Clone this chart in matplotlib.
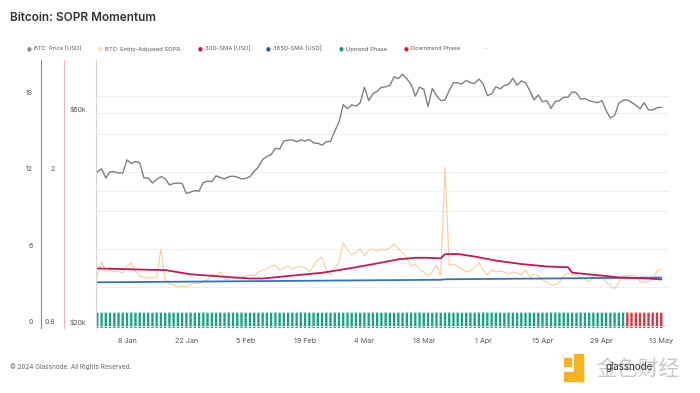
import matplotlib
matplotlib.use('Agg')
import matplotlib.pyplot as plt
import matplotlib.ticker as mticker
import numpy as np
import pandas as pd

plt.rcParams['font.family'] = ['Inter', 'DejaVu Sans']

# --- data ---
start = '2024-01-01'
downtrend_start = '2024-05-05'

# BTC price (k USD), daily Jan 1 - May 13 2024
btc_price = [
    44.2, 44.9, 42.8, 44.2, 44.2, 43.9, 43.9, 47.0, 46.1, 46.6, 46.3, 42.8, 42.8, 41.7, 42.5, 43.1,
    42.7, 41.3, 41.6, 41.7, 41.6, 39.5, 39.8, 40.1, 40.0, 41.8, 42.1, 42.0, 43.3, 42.9, 42.6,
    43.1, 43.2, 43.0, 42.6, 42.7, 43.1, 44.3, 45.3, 47.1, 47.8, 48.3, 49.9, 49.7, 51.8, 52.0,
    52.1, 51.6, 52.1, 51.8, 52.2, 51.3, 51.2, 50.7, 51.6, 51.7, 54.5, 57.1, 62.5, 61.2,
    62.4, 62.0, 63.1, 68.3, 63.8, 66.1, 66.9, 68.3, 68.5, 69.0, 72.1, 71.5, 73.1, 71.4, 69.4,
    65.3, 68.4, 67.6, 61.9, 67.9, 65.5, 63.8, 64.0, 67.2, 70.0, 69.9, 69.5, 70.8, 70.0, 69.7, 71.3,
    69.6, 65.5, 66.0, 68.5, 67.8, 68.9, 69.4, 71.6, 69.1, 70.6, 70.0, 67.1, 64.0, 65.7, 63.4,
    63.8, 61.3, 63.5, 63.8, 64.9, 64.9, 66.8, 66.4, 64.3, 64.5, 63.8, 63.4, 63.1, 63.8, 60.6,
    58.3, 59.1, 62.9, 63.9, 64.0, 63.2, 62.3, 61.2, 63.1, 60.8, 60.8, 61.5, 61.6,
]

# Entity-adjusted SOPR, daily
sopr = [
    1.076, 1.170, 1.102, 1.115, 1.102, 1.108, 1.095, 1.142, 1.163, 1.108, 1.076, 1.069, 1.063,
    1.063, 1.069, 1.265, 1.051, 1.026, 1.020, 1.007, 1.014, 1.007, 1.020, 1.032, 1.026, 1.044,
    1.051, 1.089, 1.076, 1.102, 1.057, 1.051, 1.063, 1.057, 1.069, 1.076, 1.082, 1.076, 1.102,
    1.115, 1.122, 1.142, 1.149, 1.115, 1.129, 1.142, 1.122, 1.135, 1.142, 1.129, 1.102, 1.142,
    1.184, 1.205, 1.115, 1.082, 1.129, 1.170, 1.311, 1.257, 1.220, 1.242, 1.265, 1.213, 1.257,
    1.265, 1.250, 1.265, 1.257, 1.272, 1.303, 1.265, 1.235, 1.198, 1.142, 1.156, 1.115, 1.102,
    1.076, 1.102, 1.149, 1.076, 2.067, 1.149, 1.156, 1.142, 1.122, 1.102, 1.108, 1.135, 1.163,
    1.115, 1.082, 1.115, 1.102, 1.108, 1.102, 1.089, 1.102, 1.095, 1.082, 1.115, 1.069, 1.089,
    1.076, 1.051, 1.038, 1.020, 1.020, 1.038, 1.076, 1.095, 1.082, 1.082, 1.069, 1.057, 1.038,
    1.069, 1.069, 1.069, 1.038, 1.014, 0.996, 1.038, 1.076, 1.076, 1.082, 1.076, 1.038, 1.038,
    1.038, 1.057, 1.108, 1.122,
]

# 30D / 365D SMA (day index from start, value)
sma30_days = [0, 12, 16, 22, 30, 36, 39, 45, 53, 57, 61, 67, 71, 75, 78, 81, 82, 85, 89, 94,
              100, 106, 111, 112, 115, 120, 123, 130, 133]
sma30 = [1.126, 1.117, 1.115, 1.087, 1.071, 1.060, 1.060, 1.076, 1.097, 1.115, 1.134, 1.166,
         1.189, 1.200, 1.200, 1.196, 1.226, 1.228, 1.209, 1.180, 1.156, 1.139, 1.134, 1.098,
         1.089, 1.076, 1.067, 1.060, 1.054]
sma365_days = [0, 40, 81, 82, 110, 133]
sma365 = [1.036, 1.044, 1.052, 1.055, 1.061, 1.066]

date_ticks = ['2024-01-08', '2024-01-22', '2024-02-05', '2024-02-19', '2024-03-04',
              '2024-03-18', '2024-04-01', '2024-04-15', '2024-04-29', '2024-05-13']
left_ticks = [0, 6, 12, 18]
sopr_ticks = [0.8, 2]
sopr_tick_labels = ['0.8', '2']
price_ticks = [20000, 60000]
price_tick_labels = ['$20k', '$60k']

dates = pd.date_range(start, periods=len(btc_price), freq='D')
price_usd = np.array(btc_price) * 1000

W, H = 700, 393
fig = plt.figure(figsize=(7, 3.93), dpi=100)

def fx(px):
    return px / W

def fy(py):
    return 1 - py / H

ax_left = fig.add_axes([fx(96), fy(328), fx(668) - fx(96), fy(60) - fy(328)])
ax_sopr = ax_left.twinx()
ax_price = ax_left.twinx()

x0 = pd.Timestamp(start)
ax_left.set_xlim(x0 - pd.Timedelta(hours=7.5), x0 + pd.Timedelta(days=134.6))

# phase bars
ax_left.set_ylim(-0.196, 20.78)
bar_colors = ['#d9343f' if d >= pd.Timestamp(downtrend_start) else '#19a184' for d in dates]
ax_left.bar(dates, 1.2, bottom=-0.196, width=0.55, color=bar_colors, align='center',
            zorder=2, snap=False, lw=0)

# grid (left axis)
ax_left.set_yticks(left_ticks)
ax_left.set_yticks([3, 9, 15], minor=True)
ax_left.grid(axis='y', which='both', color='#ececec', lw=0.6)
ax_left.set_axisbelow(True)

# sopr lines
ax_sopr.set_yscale('log')
ax_sopr.set_ylim(0.7881, 3.923)
ax_sopr.plot(dates, sopr, color='#f7cc9c', lw=0.8, zorder=2)
ax_sopr.plot(dates[sma365_days], sma365, color='#3274b5', lw=1.3, zorder=3)
ax_sopr.plot(dates[sma30_days], sma30, color='#c21a52', lw=1.3, zorder=4)

# price
ax_price.set_yscale('log')
ax_price.set_ylim(19744, 78660)
ax_price.plot(dates, price_usd, color='#7b817f', lw=1.0)

# axes styling
for a in (ax_left, ax_sopr, ax_price):
    for s in a.spines.values():
        s.set_visible(False)
    a.yaxis.set_ticks_position('left')
    a.yaxis.set_label_position('left')
    a.tick_params(axis='y', which='both', length=0, labelsize=5, labelcolor='#555555')

ax_left.spines['left'].set_visible(True)
ax_left.spines['left'].set_position(('outward', 55 * 0.72))
ax_left.spines['left'].set_color('#4fa9a0')
ax_left.spines['left'].set_linewidth(0.8)
ax_left.set_yticklabels([str(t) for t in left_ticks])
ax_left.tick_params(axis='y', pad=5.8)

ax_sopr.spines['left'].set_visible(True)
ax_sopr.spines['left'].set_position(('outward', 32 * 0.72))
ax_sopr.spines['left'].set_color('#eab7bb')
ax_sopr.spines['left'].set_linewidth(0.8)
ax_sopr.yaxis.set_major_locator(mticker.FixedLocator(sopr_ticks))
ax_sopr.yaxis.set_major_formatter(mticker.FixedFormatter(sopr_tick_labels))
ax_sopr.yaxis.set_minor_locator(mticker.NullLocator())
ax_sopr.tick_params(axis='y', pad=6.5)

ax_price.spines['left'].set_visible(True)
ax_price.spines['left'].set_color('#d6d6d6')
ax_price.spines['left'].set_linewidth(0.8)
ax_price.yaxis.set_major_locator(mticker.FixedLocator(price_ticks))
ax_price.yaxis.set_major_formatter(mticker.FixedFormatter(price_tick_labels))
ax_price.yaxis.set_minor_locator(mticker.FixedLocator([40000]))
ax_price.yaxis.set_minor_formatter(mticker.NullFormatter())
ax_price.grid(axis='y', which='both', color='#ececec', lw=0.6)
ax_price.tick_params(axis='y', pad=7.2)

for a in (ax_left, ax_sopr, ax_price):
    for lbl in a.get_yticklabels():
        lbl.set_va('bottom')

# x ticks
tick_dates = pd.to_datetime(date_ticks)
ax_left.set_xticks(tick_dates)
ax_left.set_xticklabels([f'{d.day} {d.strftime("%b")}' for d in tick_dates])
ax_left.tick_params(axis='x', length=0, labelsize=5.2, labelcolor='#555555', pad=7)
for a in (ax_sopr, ax_price):
    a.tick_params(axis='x', which='both', bottom=False, labelbottom=False)

# title / legend / footer
fig.text(fx(10), fy(18), 'Bitcoin: SOPR Momentum', fontsize=8.5, color='#333333',
         weight='semibold', va='center', ha='left')

legend_items = [
    (29, '#8a8a8a', 'BTC: Price [USD]'),
    (100, '#fbe2c2', 'BTC: Entity-Adjusted SOPR'),
    (200, '#c8144c', '30D-SMA [USD]'),
    (268, '#1f5fa8', '365D-SMA [USD]'),
    (341, '#17977b', 'Uptrend Phase'),
    (406, '#d1202f', 'Downtrend Phase'),
]
for px, col, txt in legend_items:
    fig.text(fx(px), fy(49), '\u25CF', fontsize=4, color=col, va='center', ha='center',
             family='DejaVu Sans')
    fig.text(fx(px + 5), fy(49), txt, fontsize=4.2, color='#555555', va='center', ha='left')
fig.text(fx(484), fy(49), '\u00B7\u00B7\u00B7', fontsize=4, color='#777777', va='center', ha='left')

fig.text(fx(10), fy(367), '\u00A9 2024 Glassnode. All Rights Reserved.', fontsize=4.6,
         color='#666666', va='center', ha='left')

# watermark
fig.patches.append(plt.Rectangle((fx(564), fy(366)), fx(7), fy(358) - fy(366),
                                 transform=fig.transFigure, color='#f5b324'))
fig.patches.append(plt.Rectangle((fx(574), fy(381)), fx(9), fy(354) - fy(381),
                                 transform=fig.transFigure, color='#f5b324'))
fig.patches.append(plt.Rectangle((fx(564), fy(381)), fx(19), fy(372) - fy(381),
                                 transform=fig.transFigure, color='#f5b324'))
fig.text(fx(596), fy(369), '金色财经', fontsize=15, color='#c8c8c8', va='center', ha='left',
         family=['Noto Sans CJK SC', 'DejaVu Sans'])
fig.text(fx(606), fy(367), 'glassnode', fontsize=7, color='#333333', va='center', ha='left')

fig.savefig('out.png', dpi=100)
